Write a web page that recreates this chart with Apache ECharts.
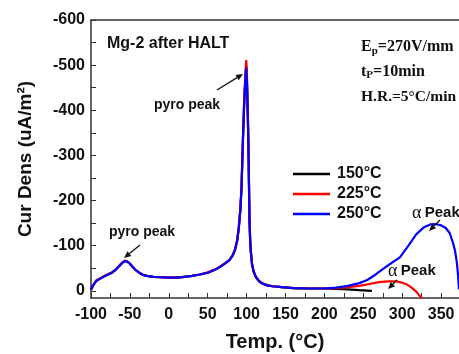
<!DOCTYPE html>
<html>
<head>
<meta charset="utf-8">
<script src="https://cdn.jsdelivr.net/npm/echarts@6/dist/echarts.min.js"></script>
<style>
  html, body { margin: 0; padding: 0; background: #fff; }
  #chart { width: 459px; height: 354px; }
</style>
</head>
<body>
<div id="chart"></div>
<script>
// temperatures shared by all three runs up to 200 °C
const sharedTemps = [-100, -97, -93, -88, -83, -78, -73, -68, -63, -59,
  -56, -53, -50, -46, -42, -38, -33, -28, -20, -10,
  0, 10, 20, 30, 40, 50, 60, 66, 72, 78,
  82, 85, 88, 90, 92, 93.5, 95.3, 97, 98.5, 99.5,
  100.5, 101.5, 102.2, 103, 103.8, 104.6, 105.5, 107, 109, 112,
  116, 120, 126, 133, 145, 160, 180, 200];

const shared150 = [-3, -13, -22, -27, -32, -36, -40, -47, -56, -63,
  -66, -64, -60, -52, -45, -40, -35, -33, -31, -30,
  -29, -29, -31, -33, -36, -40, -47, -53, -60, -68,
  -78, -90, -112, -140, -180, -230, -335, -420, -472, -500,
  -462, -392, -336, -242, -152, -112, -87, -60, -44, -31,
  -22, -17, -13, -10, -8, -6, -5, -5];

const shared225 = [-2, -12, -24, -28, -33, -37, -41, -48, -57, -64,
  -67, -65, -60, -52, -45, -40, -35, -33, -31, -30,
  -29, -29, -31, -33, -36, -41, -48, -54, -61, -69,
  -79, -91, -113, -142, -182, -232, -338, -428, -482, -511,
  -472, -398, -340, -245, -152, -112, -86, -58, -42, -30,
  -21, -16, -12, -10, -8, -6, -5, -5];

const shared250 = [-3, -13, -22, -27, -32, -36, -40, -47, -56, -63,
  -66, -64, -60, -52, -45, -40, -35, -33, -31, -30,
  -29, -29, -31, -33, -36, -40, -47, -53, -60, -68,
  -78, -90, -112, -140, -180, -230, -335, -420, -470, -494,
  -460, -390, -335, -240, -150, -110, -85, -58, -42, -30,
  -21, -16, -12, -10, -8, -6, -5, -5];

// tails past 200 °C
const tailTemps150 = [215, 230, 245, 261];
const tail150 = [-4, -3, -1.5, 0];

const tailTemps225 = [215, 230, 245, 258, 270, 282, 292, 300, 306, 312, 317, 321, 325];
const tail225 = [-6, -8, -11, -15, -19, -21, -21, -18, -14, -7, 0, 8, 17];

const tailTemps250 = [215, 230, 245, 255, 265, 275, 285, 297, 308, 318, 328, 336,
  343, 350, 356, 361, 365, 368, 370, 371.5, 372.5, 373];
const tail250 = [-7, -11, -17, -24, -35, -48, -60, -74, -100, -125, -141, -147,
  -148, -145, -139, -128, -108, -88, -65, -40, -15, -3];

const xTicks = [-100, -75, -50, -25, 0, 25, 50, 75, 100, 125, 150, 175, 200, 225, 250, 275, 300, 325, 350];
const xLabels = [-100, -50, 0, 50, 100, 150, 200, 250, 300, 350];
const yTicks = [-600, -550, -500, -450, -400, -350, -300, -250, -200, -150, -100, -50, 0];
const yLabels = [-600, -500, -400, -300, -200, -100, 0];

function pairs(temps, vals, tailT, tailV) {
  const t = temps.concat(tailT);
  const v = vals.concat(tailV);
  return t.map((x, i) => [x, v[i]]);
}

const SANS = '"Liberation Sans", Arial, sans-serif';
const SERIF = '"Liberation Serif", "Times New Roman", serif';
const AXIS_COLOR = '#333';

function arrow(x1, y1, x2, y2) {
  const ang = Math.atan2(y2 - y1, x2 - x1);
  const len = 7, half = 3;
  const bx = x2 - len * Math.cos(ang), by = y2 - len * Math.sin(ang);
  const nx = -Math.sin(ang) * half, ny = Math.cos(ang) * half;
  return [
    { type: 'line', shape: { x1, y1, x2: bx, y2: by }, style: { stroke: '#111', lineWidth: 1.3 }, z: 100 },
    { type: 'polygon', shape: { points: [[x2, y2], [bx + nx, by + ny], [bx - nx, by - ny]] }, style: { fill: '#111' }, z: 100 },
  ];
}

function label(x, y, text, font) {
  return {
    type: 'text', x, y, z: 100,
    style: { text, font, fill: '#111', verticalAlign: 'middle' },
  };
}

function alphaPeak(x, y) {
  return {
    type: 'text', x, y, z: 100,
    style: {
      text: '{a|α} {p|Peak}', verticalAlign: 'middle', fill: '#111',
      rich: {
        a: { font: '18px ' + SERIF, fill: '#111' },
        p: { font: 'bold 15px ' + SANS, fill: '#111' },
      },
    },
  };
}

const chart = echarts.init(document.getElementById('chart'), null, { renderer: 'canvas' });

const option = {
  animation: false,
  backgroundColor: '#fff',
  grid: { left: 91, right: 0, top: 20, bottom: 56, outerBoundsMode: 'none' },
  legend: {
    orient: 'vertical',
    left: 288,
    top: 161,
    icon: 'rect',
    itemWidth: 37,
    itemHeight: 2.5,
    itemGap: 4,
    textStyle: { fontFamily: SANS, fontWeight: 'bold', fontSize: 16, color: '#111', padding: [0, 0, 0, 2] },
    data: ['150°C', '225°C', '250°C'],
  },
  xAxis: [
    {
      type: 'value',
      min: -100,
      max: 373,
      position: 'bottom',
      name: 'Temp. (°C)',
      nameLocation: 'middle',
      nameGap: 34,
      nameTextStyle: { fontFamily: SANS, fontWeight: 'bold', fontSize: 20, color: '#111' },
      axisLine: { onZero: false, lineStyle: { color: AXIS_COLOR, width: 1.5 } },
      axisTick: { inside: true, length: 5, customValues: xTicks, lineStyle: { color: AXIS_COLOR, width: 1 } },
      axisLabel: {
        customValues: xLabels,
        margin: 9,
        fontFamily: SANS, fontWeight: 'bold', fontSize: 16, color: '#111',
      },
      splitLine: { show: false },
    },
    {
      type: 'value',
      min: -100,
      max: 373,
      position: 'top',
      axisLine: { onZero: false, lineStyle: { color: AXIS_COLOR, width: 1.5 } },
      axisTick: { show: false },
      axisLabel: { show: false },
      splitLine: { show: false },
    },
  ],
  yAxis: {
    type: 'value',
    inverse: true,
    min: -600,
    max: 16,
    name: 'Cur Dens (uA/m²)',
    nameLocation: 'middle',
    nameGap: 56,
    nameTextStyle: { fontFamily: SANS, fontWeight: 'bold', fontSize: 19, color: '#111' },
    axisLine: { onZero: false, lineStyle: { color: AXIS_COLOR, width: 1.5 } },
    axisTick: { inside: true, length: 5, customValues: yTicks, lineStyle: { color: AXIS_COLOR, width: 1 } },
    axisLabel: {
      customValues: yLabels,
      margin: 6,
      fontFamily: SANS, fontWeight: 'bold', fontSize: 16, color: '#111',
    },
    splitLine: { show: false },
  },
  series: [
    {
      name: '150°C', type: 'line', symbol: 'none',
      data: pairs(sharedTemps, shared150, tailTemps150, tail150),
      lineStyle: { color: '#000', width: 2.2 }, itemStyle: { color: '#000' },
    },
    {
      name: '225°C', type: 'line', symbol: 'none',
      data: pairs(sharedTemps, shared225, tailTemps225, tail225),
      lineStyle: { color: '#ff0000', width: 2.2 }, itemStyle: { color: '#ff0000' },
    },
    {
      name: '250°C', type: 'line', symbol: 'none',
      data: pairs(sharedTemps, shared250, tailTemps250, tail250),
      lineStyle: { color: '#0000ff', width: 2.2 }, itemStyle: { color: '#0000ff' },
    },
  ],
  graphic: [
    label(107, 44, 'Mg-2 after HALT', 'bold 16px ' + SANS),
    label(154, 105, 'pyro peak', 'bold 14px ' + SANS),
    label(109, 232, 'pyro peak', 'bold 14px ' + SANS),
    ...arrow(217, 90, 243, 74),
    ...arrow(140, 245, 124, 258),
    {
      type: 'text', x: 361, y: 47, z: 100,
      style: {
        text: '{b|E}{s|p}{b|=270V/mm}', verticalAlign: 'middle', fill: '#111',
        rich: {
          b: { font: 'bold 16px ' + SERIF, fill: '#111' },
          s: { font: 'bold 11px ' + SERIF, fill: '#111', padding: [8, 0, 0, 0] },
        },
      },
    },
    {
      type: 'text', x: 361, y: 72, z: 100,
      style: {
        text: '{b|t}{s|P}{b|=10min}', verticalAlign: 'middle', fill: '#111',
        rich: {
          b: { font: 'bold 16px ' + SERIF, fill: '#111' },
          s: { font: 'bold 11px ' + SERIF, fill: '#111', padding: [6, 0, 0, 0] },
        },
      },
    },
    label(361, 97, 'H.R.=5°C/min', 'bold 15.5px ' + SERIF),
    alphaPeak(412, 213),
    ...arrow(440, 220, 429, 231),
    alphaPeak(388, 271),
    ...arrow(397, 280, 388, 289),
  ],
};

chart.setOption(option);
</script>
</body>
</html>
